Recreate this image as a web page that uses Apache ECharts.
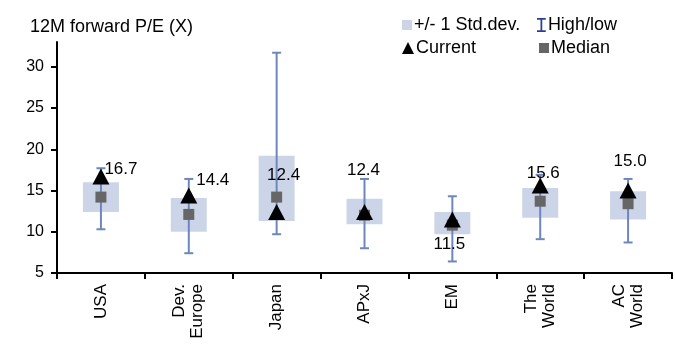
<!DOCTYPE html>
<html>
<head>
<meta charset="utf-8">
<script src="https://cdn.jsdelivr.net/npm/echarts@6/dist/echarts.min.js"></script>
<style>
  html, body { margin: 0; padding: 0; background: #fff; }
  #chart { width: 675px; height: 353px; }
</style>
</head>
<body>
<div id="chart"></div>
<script>
// categories and values
var categories = ["USA", "Dev.\nEurope", "Japan", "APxJ", "EM", "The\nWorld", "AC\nWorld"];
var stdLow  = [12.4, 10.0, 11.3, 10.9,  9.7, 11.7, 11.5];
var stdHigh = [16.0, 14.1, 19.2, 14.0, 12.4, 15.3, 14.9];
var lowVals  = [10.3,  7.4,  9.7,  8.0,  6.4,  9.1,  8.7];
var highVals = [17.7, 16.4, 31.7, 16.4, 14.3, 16.9, 16.4];
var median  = [14.2, 12.1, 14.2, 12.0, 10.8, 13.7, 13.4];
var current = [16.7, 14.4, 12.4, 12.4, 11.5, 15.6, 15.0];
var yTicks = [5, 10, 15, 20, 25, 30];

// where each "Current" label sits relative to its triangle
var labelOffsets = [[20, -7], [24, -15], [7, -37], [-1, -42], [-3, 25], [3, -12], [2, -29]];

var font = "Liberation Sans, Arial, sans-serif";
var legendText = { fontFamily: font, fontSize: 18, color: "#000", padding: [0, 0, 0, -3] };

var chart = echarts.init(document.getElementById("chart"));

var option = {
  animation: false,
  backgroundColor: "#fff",
  textStyle: { fontFamily: font },
  title: {
    text: "12M forward P/E (X)",
    left: 25, top: 13,
    textStyle: { fontFamily: font, fontSize: 18, fontWeight: "normal", color: "#000" }
  },
  legend: [
    {
      left: 397, top: 11, itemWidth: 10, itemHeight: 10, itemGap: 6,
      textStyle: legendText,
      data: [{ name: "+/- 1 Std.dev.", icon: "rect" }]
    },
    {
      left: 532, top: 11, itemWidth: 9, itemHeight: 14,
      textStyle: legendText,
      data: [{ name: "High/low", icon: "path://M0,0H10V2H6V14H10V16H0V14H4V2H0Z",
               itemStyle: { color: "#2a3f94" } }]
    },
    {
      left: 397, top: 34, itemWidth: 12, itemHeight: 12,
      textStyle: legendText,
      data: [{ name: "Current", icon: "triangle" }]
    },
    {
      left: 534, top: 34, itemWidth: 10, itemHeight: 10,
      textStyle: legendText,
      data: [{ name: "Median", icon: "rect" }]
    }
  ],
  grid: { left: 57, right: 3, top: 42, bottom: 80 },
  xAxis: {
    type: "category",
    data: categories,
    boundaryGap: true,
    axisLine: { lineStyle: { color: "#000", width: 2 } },
    axisTick: { show: true, length: 6, interval: 0, lineStyle: { color: "#000", width: 2 } },
    axisLabel: {
      rotate: 90, interval: 0, margin: 11,
      fontFamily: font, fontSize: 17, color: "#000", lineHeight: 18
    },
    splitLine: { show: false }
  },
  yAxis: {
    type: "value",
    min: 5, max: 33,
    axisLine: { show: true, lineStyle: { color: "#000", width: 2 } },
    axisTick: { show: true, length: 6, customValues: yTicks, lineStyle: { color: "#000", width: 2 } },
    axisLabel: { customValues: yTicks, margin: 13, fontFamily: font, fontSize: 16, color: "#000" },
    splitLine: { show: false }
  },
  series: [
    {
      name: "+/- 1 Std.dev.",
      type: "custom",
      itemStyle: { color: "#ccd5e8" },
      data: categories.map(function (c, i) { return [i, stdLow[i], stdHigh[i]]; }),
      encode: { x: 0, y: [1, 2] },
      renderItem: function (params, api) {
        var lo = api.coord([api.value(0), api.value(1)]);
        var hi = api.coord([api.value(0), api.value(2)]);
        var w = 36;
        return {
          type: "rect",
          shape: { x: lo[0] - w / 2, y: hi[1], width: w, height: lo[1] - hi[1] },
          style: { fill: "#ccd5e8" }
        };
      },
      z: 1
    },
    {
      name: "High/low",
      type: "custom",
      itemStyle: { color: "#6d87be" },
      data: categories.map(function (c, i) { return [i, lowVals[i], highVals[i]]; }),
      encode: { x: 0, y: [1, 2] },
      renderItem: function (params, api) {
        var lo = api.coord([api.value(0), api.value(1)]);
        var hi = api.coord([api.value(0), api.value(2)]);
        var cap = 4.5;
        var st = { stroke: "#6d87be", lineWidth: 2 };
        return {
          type: "group",
          children: [
            { type: "line", shape: { x1: lo[0], y1: lo[1], x2: hi[0], y2: hi[1] }, style: st },
            { type: "line", shape: { x1: lo[0] - cap, y1: lo[1], x2: lo[0] + cap, y2: lo[1] }, style: st },
            { type: "line", shape: { x1: hi[0] - cap, y1: hi[1], x2: hi[0] + cap, y2: hi[1] }, style: st }
          ]
        };
      },
      z: 2
    },
    {
      name: "Median",
      type: "scatter",
      symbol: "rect",
      symbolSize: 11,
      itemStyle: { color: "#666666", opacity: 1 },
      data: median,
      z: 3
    },
    {
      name: "Current",
      type: "scatter",
      symbol: "triangle",
      symbolSize: [17, 16],
      itemStyle: { color: "#000", opacity: 1 },
      data: current.map(function (v, i) {
        return {
          value: v,
          label: { show: true, position: "inside", offset: labelOffsets[i] }
        };
      }),
      label: {
        fontFamily: font, fontSize: 17, color: "#000",
        formatter: function (p) { return p.value.toFixed(1); }
      },
      z: 4
    }
  ]
};

chart.setOption(option);
</script>
</body>
</html>
